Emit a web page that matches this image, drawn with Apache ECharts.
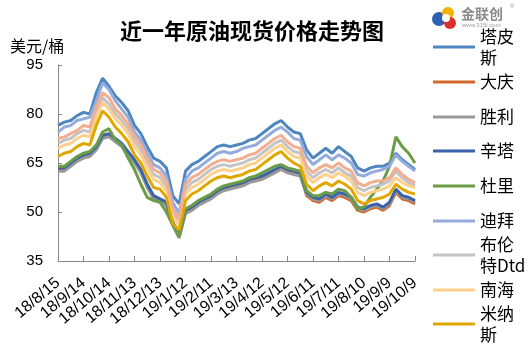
<!DOCTYPE html>
<html>
<head>
<meta charset="utf-8">
<script src="https://cdn.jsdelivr.net/npm/echarts@6/dist/echarts.min.js"></script>
<style>
  html, body { margin: 0; padding: 0; background: #fff; }
  #chart { width: 531px; height: 354px; }
</style>
</head>
<body>
<div id="chart"></div>
<script>
// 日期（每周一个点，每4个点显示一个标签）
const dates = [
  '18/8/15', '18/8/22', '18/8/29', '18/9/5',
  '18/9/14', '18/9/21', '18/9/28', '18/10/7',
  '18/10/14', '18/10/21', '18/10/28', '18/11/5',
  '18/11/13', '18/11/20', '18/11/27', '18/12/5',
  '18/12/13', '18/12/20', '18/12/27', '19/1/4',
  '19/1/12', '19/1/19', '19/1/26', '19/2/3',
  '19/2/11', '19/2/18', '19/2/25', '19/3/5',
  '19/3/13', '19/3/20', '19/3/27', '19/4/4',
  '19/4/12', '19/4/19', '19/4/26', '19/5/4',
  '19/5/12', '19/5/19', '19/5/26', '19/6/3',
  '19/6/11', '19/6/18', '19/6/25', '19/7/3',
  '19/7/11', '19/7/18', '19/7/25', '19/8/2',
  '19/8/10', '19/8/17', '19/8/24', '19/9/1',
  '19/9/9', '19/9/16', '19/9/23', '19/10/1',
  '19/10/9'
];

const tapis = [76.5, 77.5, 78, 79.5, 80.5, 80, 86.5, 91, 88.5, 85.5,
  83.5, 81, 76.5, 74, 70, 66.5, 65.5, 63.5, 55, 52.5,
  62.5, 64.5, 65.5, 67, 68.5, 70, 70.5, 70, 70.5, 71,
  72, 72.5, 74, 75.5, 77, 78, 76, 74.5, 74, 69,
  66.5, 68, 69.5, 68, 70, 68.5, 67, 63.5, 62.5, 63.5,
  64, 64, 65, 68, 66, 64.5, 63];

const daqing = [63, 63, 64.5, 66, 67, 67.5, 69.5, 73, 73.5, 72,
  70.5, 68, 65.5, 62.5, 58, 54.5, 53.5, 52.5, 46.5, 42.5,
  50, 51, 52.5, 53.5, 54.5, 56, 57, 57.5, 58, 58.5,
  59.5, 60, 60.5, 61.5, 62.5, 63.5, 62.5, 62, 61.5, 55,
  53.5, 53, 54.5, 53.5, 55, 54.5, 53.5, 50.5, 50, 51,
  51.5, 50.5, 52, 56, 54, 53.5, 52.5];

const shengli = [62.5, 62.5, 64, 65.5, 66.5, 67, 69, 72.5, 73, 71.5,
  70, 67.5, 65, 62, 57.5, 54, 53, 52, 46, 42,
  49.5, 50.5, 52, 53, 54, 55.5, 56.5, 57, 57.5, 58,
  59, 59.5, 60, 61, 62, 63, 62, 61.5, 61, 55.5,
  54, 53.5, 55, 54, 55.5, 55, 54, 51, 50.5, 51.5,
  52, 51, 52.5, 56.5, 54.5, 54, 53];

const sinta = [63.5, 63.5, 65, 66.5, 67.5, 68, 70, 73.5, 74, 72.5,
  71, 68.5, 66, 63, 58.5, 55, 54, 53, 47, 43,
  50.5, 51.5, 53, 54, 55, 56.5, 57.5, 58, 58.5, 59,
  60, 60.5, 61, 62, 63, 64, 63, 62.5, 62, 56,
  54.5, 54, 55.5, 54.5, 56, 55.5, 54.5, 51.5, 51, 52,
  52.5, 51.5, 53, 57, 55, 54.5, 53.5];

const duri = [64, 64, 65.5, 67, 68, 68.5, 70.5, 74.5, 75.5, 72,
  70.5, 66.5, 63, 58.5, 54.5, 53.5, 53, 50, 46, 42.5,
  51, 52, 53.5, 54.5, 55.5, 57, 58, 58.5, 59, 59.5,
  60.5, 61, 62, 63, 64, 64.5, 63.5, 63, 62.5, 56.5,
  55, 55, 56, 55.5, 57, 56.5, 54.5, 51, 51.5, 54.5,
  57, 59.5, 64, 73, 70, 68, 65];

const dubai = [74.5, 76, 76.5, 78, 78.5, 79, 84, 89.5, 87.5, 84,
  81.5, 79, 74.5, 72, 68, 64.5, 63.5, 61, 53, 49.5,
  60, 62.5, 63.5, 65, 66.5, 68, 68.5, 68, 68.5, 69.5,
  70, 70.5, 72, 73.5, 75, 76, 74.5, 72.5, 72, 67,
  64.5, 66, 67.5, 66, 67.5, 66.5, 65, 61.5, 61, 62,
  62.5, 63, 64, 67.5, 65.5, 64, 62.5];

const brent = [71, 72, 72.5, 74, 75, 74.5, 80.5, 85, 83, 80,
  78, 75.5, 71.5, 69, 65, 61.5, 60.5, 58, 50, 47,
  57, 59, 60, 61.5, 63, 64, 64.5, 64, 64.5, 65,
  66, 66.5, 68, 69.5, 71, 72, 70, 68.5, 68, 62.5,
  60.5, 62, 63, 62, 63.5, 62, 61, 57.5, 56.5, 57.5,
  58, 58.5, 59.5, 62.5, 60.5, 59, 58];

const nanhai = [69.5, 70.5, 71, 72.5, 73.5, 73, 79, 83.5, 81.5, 78.5,
  76.5, 74, 70, 67.5, 63.5, 60, 59, 56.5, 48.5, 46,
  55.5, 57.5, 58.5, 60, 61.5, 62.5, 63, 62.5, 63, 63.5,
  64.5, 65, 66.5, 68, 69.5, 70.5, 68.5, 67, 66.5, 61,
  59, 60.5, 61.5, 60.5, 62, 61, 59.5, 56, 55, 56,
  56.5, 57, 58, 60.5, 59, 58, 57.5];

const minas = [67, 68, 68.5, 70, 71, 70.5, 76.5, 81, 79, 76,
  74, 71.5, 67.5, 65, 61, 57.5, 57, 54.5, 46.5, 44.5,
  53.5, 55.5, 56.5, 58, 59.5, 60.5, 61, 60.5, 61, 61.5,
  62.5, 63, 64.5, 66, 67.5, 68.5, 66.5, 65, 64, 58.5,
  56.5, 58, 59, 58, 59.5, 58.5, 57, 53.5, 52.5, 53.5,
  54, 54.5, 55.5, 58.5, 57, 56, 55.5];

// 图例里没有显示的那条橙粉色线
const other = [72.5, 73, 74, 75, 76.5, 76, 82, 86.5, 85, 81.5,
  79.5, 77, 73, 70.5, 66.5, 63, 62, 59.5, 51, 48,
  58.5, 60.5, 61.5, 63, 64.5, 65.5, 66, 65.5, 66, 66.5,
  67.5, 68, 69.5, 71, 72.5, 73.5, 71.5, 70, 69.5, 64,
  62, 63.5, 64.5, 63.5, 65, 63.5, 62.5, 59, 58, 59,
  59.5, 59.5, 60.5, 63.5, 61.5, 60, 59];

const legendNames = ['塔皮斯', '大庆', '胜利', '辛塔', '杜里', '迪拜', '布伦特Dtd', '南海', '米纳斯'];
const legendY = [47, 82, 117, 151, 186, 221, 255, 290, 324];
const wrapText = { '塔皮斯': '塔皮\n斯', '布伦特Dtd': '布伦\n特Dtd', '米纳斯': '米纳\n斯' };

const seriesList = [
  { name: '塔皮斯', data: tapis, color: '#4f86c0' },
  { name: '大庆', data: daqing, color: '#d2692a' },
  { name: '胜利', data: shengli, color: '#9a9a9a' },
  { name: '辛塔', data: sinta, color: '#3b63ab' },
  { name: '杜里', data: duri, color: '#6a9d45' },
  { name: '迪拜', data: dubai, color: '#93acdb' },
  { name: '布伦特Dtd', data: brent, color: '#c4c4c4' },
  { name: '南海', data: nanhai, color: '#ffd08c' },
  { name: '米纳斯', data: minas, color: '#e0a700' },
  { name: '其他', data: other, color: '#f2ae8f' }
];

const cjk = '"Noto Sans CJK SC", sans-serif';
const lh = 21;

const chart = echarts.init(document.getElementById('chart'), null, { renderer: 'canvas' });

// 每个图例单独放，折行文字可以压到下一项上
const legends = legendNames.map((name, i) => {
  const wrapped = !!wrapText[name];
  return {
    data: [name],
    orient: 'vertical',
    left: 433,
    top: wrapped ? legendY[i] - lh * 1.5 : legendY[i] - lh / 2,
    padding: 0,
    icon: 'rect',
    itemWidth: 42,
    itemHeight: 3,
    selectedMode: false,
    formatter: n => wrapText[n] || n,
    textStyle: {
      fontFamily: cjk,
      fontSize: 17,
      lineHeight: lh,
      color: '#000',
      padding: wrapped ? [lh, 0, 0, 0] : 0
    }
  };
});

chart.setOption({
  animation: false,
  backgroundColor: '#fff',
  title: {
    text: '近一年原油现货价格走势图',
    left: 120,
    top: 20,
    padding: 0,
    textStyle: { fontFamily: cjk, fontSize: 22, fontWeight: 'bold', color: '#000' }
  },
  legend: legends,
  grid: { left: 58, right: 116, top: 65, bottom: 93 },
  xAxis: {
    type: 'category',
    data: dates,
    boundaryGap: false,
    axisLine: { lineStyle: { color: '#868686', width: 1 } },
    axisTick: { inside: true, length: 5, interval: 3, lineStyle: { color: '#868686' } },
    axisLabel: {
      interval: 3,
      rotate: 40,
      margin: 20,
      fontFamily: 'Liberation Sans, Arial, sans-serif',
      fontSize: 16,
      color: '#000'
    },
    splitLine: { show: false }
  },
  yAxis: {
    type: 'value',
    min: 35,
    max: 95,
    interval: 15,
    axisLine: { show: true, lineStyle: { color: '#868686', width: 1 } },
    axisTick: { show: true, inside: true, length: 4, lineStyle: { color: '#868686' } },
    axisLabel: {
      margin: 15,
      fontFamily: 'Liberation Sans, Arial, sans-serif',
      fontSize: 15,
      color: '#000'
    },
    splitLine: { show: false }
  },
  graphic: [
    {
      type: 'text', left: 10, top: 38,
      style: { text: '美元/桶', fontFamily: cjk, fontSize: 16, fill: '#000' }
    },
    // 右上角 logo
    { type: 'circle', shape: { cx: 439, cy: 19, r: 7 }, style: { fill: '#2f5fb3' } },
    { type: 'circle', shape: { cx: 448, cy: 13, r: 6 }, style: { fill: '#f2b400' } },
    { type: 'circle', shape: { cx: 450, cy: 23, r: 6 }, style: { fill: '#d9322b' } },
    { type: 'circle', shape: { cx: 446, cy: 18, r: 4 }, style: { fill: '#fff' } },
    {
      type: 'text', left: 461, top: 7,
      style: { text: '金联创', fontFamily: cjk, fontSize: 14, fontWeight: 'bold', fill: '#8a8a8a' }
    },
    {
      type: 'text', left: 510, top: 3,
      style: { text: '®', fontFamily: 'Liberation Sans, sans-serif', fontSize: 6, fill: '#9a9a9a' }
    },
    {
      type: 'text', left: 462, top: 22,
      style: { text: 'www.315i.com', fontFamily: 'Liberation Sans, sans-serif', fontSize: 6, fill: '#9a9a9a' }
    }
  ],
  series: seriesList.map(s => ({
    name: s.name,
    type: 'line',
    data: s.data,
    showSymbol: false,
    symbol: 'none',
    lineStyle: { width: 3, color: s.color },
    itemStyle: { color: s.color },
    emphasis: { disabled: true }
  }))
});
</script>
</body>
</html>
